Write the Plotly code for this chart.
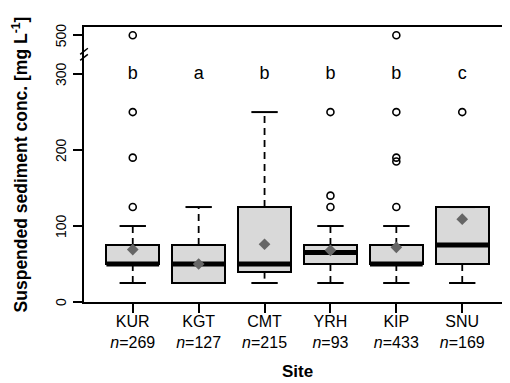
import plotly.graph_objects as go

# ---------------- data ----------------
sites = ["KUR", "KGT", "CMT", "YRH", "KIP", "SNU"]
n_obs = [269, 127, 215, 93, 433, 169]
q1 = [50, 25, 40, 50, 50, 50]
median = [50, 50, 50, 65, 50, 75]
q3 = [75, 75, 125, 75, 75, 125]
lower_whisker = [25, 25, 25, 25, 25, 25]
upper_whisker = [100, 125, 250, 100, 100, 125]
means = [69, 50, 76, 68, 72, 109]
outliers_KUR = [125, 190, 250, 500]
outliers_KGT = []
outliers_CMT = []
outliers_YRH = [125, 140, 250]
outliers_KIP = [125, 185, 190, 250, 500]
outliers_SNU = [250]
letters = ["b", "a", "b", "b", "b", "c"]
y_tick_values = [0, 100, 200, 300, 500]

outliers = [outliers_KUR, outliers_KGT, outliers_CMT, outliers_YRH, outliers_KIP, outliers_SNU]

# broken axis: values above 300 are compressed
BREAK = 300
GAP_SCALE = 0.256


def disp(v):
    return v if v <= BREAK else BREAK + (v - BREAK) * GAP_SCALE


FONT = "Liberation Sans, Arial, sans-serif"
BOX_W = 0.8
CAP_W = 0.4
pos = list(range(1, len(sites) + 1))

fig = go.Figure()

# boxes (Q1..Q3)
fig.add_trace(go.Bar(
    x=pos, y=[b - a for a, b in zip(q1, q3)], base=q1, width=BOX_W,
    marker=dict(color="#d9d9d9", line=dict(color="black", width=2)),
    hoverinfo="skip", showlegend=False,
))

# whiskers (dashed)
wx, wy = [], []
for p, a, b, lo, hi in zip(pos, q1, q3, lower_whisker, upper_whisker):
    wx += [p, p, None, p, p, None]
    wy += [b, hi, None, a, lo, None]
fig.add_trace(go.Scatter(x=wx, y=wy, mode="lines",
                         line=dict(color="black", width=1.8, dash="7px,5px"),
                         hoverinfo="skip", showlegend=False))

# staples
cx, cy = [], []
for p, lo, hi in zip(pos, lower_whisker, upper_whisker):
    cx += [p - CAP_W / 2, p + CAP_W / 2, None, p - CAP_W / 2, p + CAP_W / 2, None]
    cy += [hi, hi, None, lo, lo, None]
fig.add_trace(go.Scatter(x=cx, y=cy, mode="lines",
                         line=dict(color="black", width=2),
                         hoverinfo="skip", showlegend=False))

# medians (thick)
mx, my = [], []
for p, m in zip(pos, median):
    mx += [p - BOX_W / 2, p + BOX_W / 2, None]
    my += [m, m, None]
fig.add_trace(go.Scatter(x=mx, y=my, mode="lines",
                         line=dict(color="black", width=5),
                         hoverinfo="skip", showlegend=False))

# outliers
ox, oy = [], []
for p, outs in zip(pos, outliers):
    for v in outs:
        ox.append(p)
        oy.append(disp(v))
fig.add_trace(go.Scatter(x=ox, y=oy, mode="markers",
                         marker=dict(symbol="circle-open", size=7,
                                     color="black", line=dict(width=1.6)),
                         hoverinfo="skip", showlegend=False))

# means
fig.add_trace(go.Scatter(x=pos, y=means, mode="markers",
                         marker=dict(symbol="diamond", size=9, color="#666666"),
                         hoverinfo="skip", showlegend=False))

# significance letters
fig.add_trace(go.Scatter(x=pos, y=[BREAK] * len(pos), mode="text",
                         text=letters, textposition="middle center",
                         textfont=dict(family=FONT, size=18, color="black"),
                         hoverinfo="skip", showlegend=False))

# axis break mark
for yy in (322, 330):
    fig.add_shape(type="line", xref="paper", yref="y",
                  x0=-0.009, x1=0.009, y0=yy - 4, y1=yy + 4,
                  line=dict(color="black", width=1.5))

# y tick labels (rotated, R style, placed further from the axis)
for v in y_tick_values:
    fig.add_annotation(x=0, xref="paper", y=disp(v), yref="y",
                       text=str(v), showarrow=False, textangle=-90,
                       xanchor="center", yanchor="middle", xshift=-23,
                       font=dict(size=14, family=FONT, color="black"))

fig.update_layout(
    width=510, height=383,
    margin=dict(l=76, r=5, t=19, b=89),
    plot_bgcolor="white", paper_bgcolor="white",
    font=dict(family=FONT, color="black"),
    bargap=0,
    xaxis=dict(
        range=[0.26, 6.74],
        tickmode="array", tickvals=pos,
        ticktext=[f"{s}<br><i>n</i>={k}" for s, k in zip(sites, n_obs)],
        tickfont=dict(size=16, family=FONT),
        ticks="outside", ticklen=9, tickwidth=1.5, tickcolor="black",
        ticklabelstandoff=-5,
        showline=True, linecolor="black", linewidth=1.5, mirror=True,
        showgrid=False, zeroline=False,
        title=dict(text="<b>Site</b>", font=dict(size=17, family=FONT), standoff=15),
    ),
    yaxis=dict(
        range=[0, 362],
        tickmode="array", tickvals=[disp(v) for v in y_tick_values],
        showticklabels=False,
        ticks="outside", ticklen=9, tickwidth=1.5, tickcolor="black",
        showline=True, linecolor="black", linewidth=1.5, mirror=True,
        showgrid=False, zeroline=False,
        title=dict(text="<b>Suspended sediment conc. [mg L<sup>-1</sup>]</b>",
                   font=dict(size=17.5, family=FONT), standoff=41),
    ),
)

fig.write_html("out.html")
